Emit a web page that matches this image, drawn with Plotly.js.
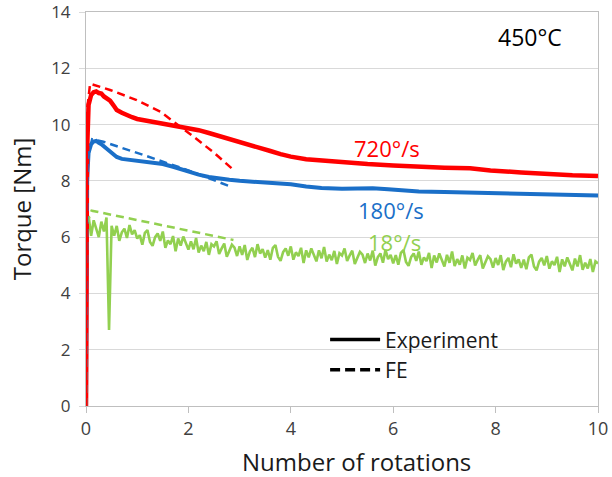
<!DOCTYPE html>
<html>
<head>
<meta charset="utf-8">
<script src="https://cdn.plot.ly/plotly-3.0.1.min.js"></script>
<style>html,body{margin:0;padding:0;background:#fff;}#chart{width:612px;height:477px;}</style>
</head>
<body>
<div id="chart"></div>
<script>
const redExpX = [0, 0.02, 0.05, 0.1, 0.15, 0.2, 0.25, 0.3, 0.35, 0.4, 0.47, 0.55, 0.6, 0.7, 0.8, 0.9, 1.0, 1.2, 1.4, 1.6, 1.8, 2.0, 2.2, 2.4, 2.6, 2.8, 3.0, 3.2, 3.4, 3.6, 3.8, 4.0, 4.3, 4.6, 5.0, 5.5, 6.0, 6.5, 7.0, 7.5, 7.7, 7.9, 8.5, 9.0, 9.5, 10.0];
const redExpY = [0, 9.0, 10.7, 11.05, 11.15, 11.18, 11.12, 11.1, 11.0, 10.95, 10.85, 10.65, 10.52, 10.42, 10.33, 10.26, 10.2, 10.13, 10.08, 10.03, 9.96, 9.88, 9.8, 9.7, 9.6, 9.5, 9.4, 9.3, 9.18, 9.06, 8.95, 8.86, 8.77, 8.72, 8.65, 8.6, 8.55, 8.5, 8.47, 8.45, 8.41, 8.37, 8.3, 8.24, 8.2, 8.17];

const blueExpX = [0, 0.02, 0.05, 0.1, 0.15, 0.2, 0.25, 0.3, 0.4, 0.5, 0.6, 0.7, 0.86, 1.0, 1.18, 1.3, 1.5, 1.7, 1.84, 2.0, 2.2, 2.4, 2.6, 2.8, 3.0, 3.3, 3.6, 4.0, 4.3, 4.6, 5.0, 5.3, 5.6, 5.9, 6.2, 6.5, 7.0, 7.5, 8.0, 8.5, 9.0, 9.5, 10.0];
const blueExpY = [0, 8.0, 9.0, 9.3, 9.4, 9.42, 9.35, 9.3, 9.15, 9.0, 8.85, 8.78, 8.74, 8.72, 8.68, 8.65, 8.6, 8.5, 8.42, 8.33, 8.22, 8.14, 8.08, 8.04, 8.0, 7.97, 7.93, 7.88, 7.8, 7.75, 7.72, 7.72, 7.74, 7.7, 7.66, 7.62, 7.6, 7.58, 7.56, 7.55, 7.52, 7.5, 7.48];

const greenStartX = [0, 0.01];
const greenStartY = [0, 5.9];
const greenStep = 0.05; // sampling step of the noisy record, starting at 0.05
const greenNoisyY = [
  6.75, 6.05, 6.6, 6.3, 6.0, 6.55, 6.2, 6.7, 2.7, 6.4,
  6.05, 6.40, 5.87, 6.17, 6.30, 5.97, 6.43, 6.10, 6.25, 5.95,
  6.07, 5.73, 6.15, 6.25, 5.83, 5.69, 6.00, 6.13, 5.87, 6.20,
  5.62, 5.88, 5.75, 6.04, 5.50, 5.95, 5.70, 6.02, 5.82, 5.56,
  5.85, 5.57, 5.97, 5.45, 5.70, 5.50, 5.83, 5.37, 5.75, 5.67,
  5.85, 5.40, 5.60, 5.77, 5.30, 5.50, 5.73, 5.63, 5.33, 5.67,
  5.37, 5.72, 5.19, 5.49, 5.62, 5.29, 5.75, 5.42, 5.57, 5.27,
  5.54, 5.20, 5.62, 5.72, 5.30, 5.16, 5.47, 5.60, 5.34, 5.67,
  5.20, 5.46, 5.33, 5.62, 5.08, 5.53, 5.28, 5.60, 5.40, 5.14,
  5.53, 5.25, 5.65, 5.13, 5.38, 5.18, 5.51, 5.05, 5.43, 5.35,
  5.60, 5.15, 5.35, 5.52, 5.05, 5.25, 5.48, 5.38, 5.08, 5.42,
  5.17, 5.52, 4.99, 5.29, 5.42, 5.09, 5.55, 5.22, 5.37, 5.07,
  5.36, 5.02, 5.44, 5.54, 5.12, 4.98, 5.29, 5.42, 5.16, 5.49,
  5.02, 5.28, 5.15, 5.44, 4.90, 5.35, 5.10, 5.42, 5.22, 4.96,
  5.37, 5.09, 5.49, 4.97, 5.22, 5.02, 5.35, 4.89, 5.27, 5.19,
  5.44, 4.99, 5.19, 5.36, 4.89, 5.09, 5.32, 5.22, 4.92, 5.26,
  5.01, 5.36, 4.83, 5.13, 5.26, 4.93, 5.39, 5.06, 5.21, 4.91,
  5.20, 4.86, 5.28, 5.38, 4.96, 4.82, 5.13, 5.26, 5.00, 5.33,
  4.88, 5.14, 5.01, 5.30, 4.76, 5.21, 4.96, 5.28, 5.08, 4.82,
  5.24, 4.96, 5.36, 4.84, 5.09, 4.89, 5.22, 4.76, 5.14, 5.06
];

// ---- FE simulation data ----
const redFEX = [0, 0.02, 0.08, 0.47, 0.99, 1.45, 2.1, 2.5, 2.88];
const redFEY = [0, 10.5, 11.45, 11.23, 10.87, 10.46, 9.57, 9.0, 8.39];
const blueFEX = [0, 0.03, 0.12, 0.34, 1.12, 1.97, 2.85];
const blueFEY = [0, 8.8, 9.48, 9.39, 8.92, 8.39, 7.78];
const greenFEX = [0, 0.02, 0.11, 2.88];
const greenFEY = [0, 6.5, 6.94, 5.9];

// ---- labels ----
const rateLabels = ['720°/s', '180°/s', '18°/s'];
const rateLabelX = [5.87, 5.95, 6.02];
const rateLabelY = [9.15, 6.96, 5.84];
const tempLabel = '450°C';
const xTitle = 'Number of rotations';
const yTitle = 'Torque [Nm]';
const legendNames = ['Experiment', 'FE'];

const RED = '#ff0000', BLUE = '#1a6fc8', GREEN = '#92d050';
const FONT = 'Open Sans, Noto Sans, sans-serif';

const greenX = greenStartX.concat(greenNoisyY.map((_, i) => +((i + 1) * greenStep).toFixed(2)));
const greenY = greenStartY.concat(greenNoisyY);

const traces = [
  {x: greenX, y: greenY, mode: 'lines', line: {color: GREEN, width: 2.6}, showlegend: false},
  {x: blueExpX, y: blueExpY, mode: 'lines', line: {color: BLUE, width: 4}, showlegend: false},
  {x: redExpX, y: redExpY, mode: 'lines', line: {color: RED, width: 4.5}, showlegend: false},
  {x: greenFEX, y: greenFEY, mode: 'lines', line: {color: GREEN, width: 2.5, dash: '8px,5px'}, showlegend: false},
  {x: blueFEX, y: blueFEY, mode: 'lines', line: {color: BLUE, width: 2.5, dash: '8px,5px'}, showlegend: false},
  {x: redFEX, y: redFEY, mode: 'lines', line: {color: RED, width: 2.5, dash: '8px,5px'}, showlegend: false},
  {x: [null], y: [null], mode: 'lines', name: legendNames[0], line: {color: '#000', width: 3.5}},
  {x: [null], y: [null], mode: 'lines', name: legendNames[1], line: {color: '#000', width: 3.5, dash: '10px,5px'}}
];

const rateColors = [RED, BLUE, GREEN];
const annotations = rateLabels.map((t, i) => ({
  x: rateLabelX[i], y: rateLabelY[i], xref: 'x', yref: 'y', text: t, showarrow: false,
  font: {family: FONT, size: 22, color: rateColors[i]}, xanchor: 'center', yanchor: 'middle', borderpad: 0
}));
annotations.push({x: 8.67, y: 13.1, xref: 'x', yref: 'y', text: tempLabel, showarrow: false,
  font: {family: FONT, size: 23, color: '#000'}, xanchor: 'center', yanchor: 'middle'});
annotations.push({x: 0.529, y: -0.14, xref: 'paper', yref: 'paper', text: xTitle, showarrow: false,
  font: {family: FONT, size: 24, color: '#1a1a1a'}, xanchor: 'center', yanchor: 'middle', borderpad: 0});

const layout = {
  width: 612, height: 477,
  margin: {l: 86, r: 14, t: 12, b: 71},
  paper_bgcolor: '#fff', plot_bgcolor: '#fff',
  font: {family: FONT, color: '#262626'},
  xaxis: {
    range: [0, 10], dtick: 2, tick0: 0, showgrid: false, zeroline: false,
    showline: true, linecolor: '#bfbfbf', linewidth: 1, mirror: true,
    ticks: 'outside', ticklen: 6, tickcolor: '#bfbfbf',
    tickfont: {family: FONT, size: 18, color: '#404040'},
    ticklabeloverflow: 'allow'
  },
  yaxis: {
    range: [0, 14], dtick: 2, tick0: 0, showgrid: true, gridcolor: '#d9d9d9', zeroline: false,
    showline: true, linecolor: '#bfbfbf', linewidth: 1, mirror: true,
    ticks: 'outside', ticklen: 6, tickcolor: '#d9d9d9',
    tickfont: {family: FONT, size: 17, color: '#404040'},
    ticklabelstandoff: 5, ticklabeloverflow: 'allow',
    title: {text: yTitle, font: {family: FONT, size: 24, color: '#1a1a1a'}, standoff: 12}
  },
  legend: {
    x: 0.467, y: 0.22, xanchor: 'left', yanchor: 'top',
    bgcolor: 'rgba(0,0,0,0)', borderwidth: 0,
    font: {family: FONT, size: 21, color: '#1a1a1a'},
    itemwidth: 50, tracegroupgap: 0
  },
  annotations: annotations,
  showlegend: true
};

Plotly.newPlot('chart', traces, layout, {displayModeBar: false, staticPlot: true});
</script>
</body>
</html>
